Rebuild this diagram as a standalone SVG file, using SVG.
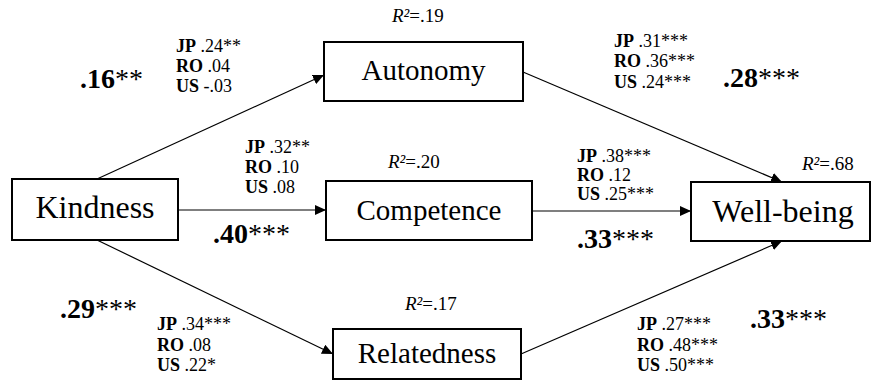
<svg xmlns="http://www.w3.org/2000/svg" width="873" height="382" viewBox="0 0 873 382" font-family="'Liberation Serif', 'DejaVu Serif', serif">
<style>
text{font-family:'Liberation Serif','DejaVu Serif',serif;fill:#000}
.box{fill:#fff;stroke:#000;stroke-width:2}
.node{font-size:29px;text-anchor:middle}
.big{font-size:32px;text-anchor:middle}
.edge{stroke:#000;stroke-width:1.2;fill:none;marker-end:url(#arr)}
.coef{font-size:28px}
.b{font-weight:bold}
.sm{font-size:18px}
.r2{font-size:19px}
.i{font-style:italic}
</style>
<defs>
<marker id="arr" markerUnits="userSpaceOnUse" markerWidth="12" markerHeight="10" refX="11" refY="5" orient="auto">
<path d="M0,0 L11,5 L0,10 Z" fill="#000"/>
</marker>
</defs>
<g id="connectors">
<line class="edge" x1="97" y1="179" x2="324" y2="75"/>
<line class="edge" x1="178" y1="210" x2="326" y2="210"/>
<line class="edge" x1="97" y1="240" x2="333" y2="354"/>
<line class="edge" x1="523" y1="72" x2="782" y2="182"/>
<line class="edge" x1="532" y1="211" x2="691" y2="211"/>
<line class="edge" x1="521" y1="354" x2="782" y2="241"/>
</g>
<g id="kindness">
<rect class="box" x="12" y="179" width="166" height="61"/>
<text class="big" x="95" y="218">Kindness</text>
</g>
<g id="autonomy">
<rect class="box" x="324" y="42" width="199" height="59"/>
<text class="node" x="423.500" y="80">Autonomy</text>
<text class="r2" x="392" y="22"><tspan class="i">R²</tspan>=.19</text>
</g>
<g id="competence">
<rect class="box" x="326" y="181" width="206" height="59"/>
<text class="node" x="429" y="220">Competence</text>
<text class="r2" x="388" y="168"><tspan class="i">R²</tspan>=.20</text>
</g>
<g id="relatedness">
<rect class="box" x="333" y="329" width="188" height="50"/>
<text class="node" x="427" y="363">Relatedness</text>
<text class="r2" x="405" y="310"><tspan class="i">R²</tspan>=.17</text>
</g>
<g id="wellbeing">
<rect class="box" x="691" y="182" width="179" height="59"/>
<text class="big" x="783" y="222">Well-being</text>
<text class="r2" x="802" y="170"><tspan class="i">R²</tspan>=.68</text>
</g>
<g id="labels">
<text class="coef" x="80" y="88"><tspan class="b">.16</tspan>**</text>
<text class="sm" x="176" y="52"><tspan class="b">JP</tspan> .24**</text>
<text class="sm" x="176" y="72"><tspan class="b">RO</tspan> .04</text>
<text class="sm" x="176" y="92"><tspan class="b">US</tspan> -.03</text>

<text class="sm" x="614" y="47"><tspan class="b">JP</tspan> .31***</text>
<text class="sm" x="614" y="67"><tspan class="b">RO</tspan> .36***</text>
<text class="sm" x="614" y="88"><tspan class="b">US</tspan> .24***</text>
<text class="coef" x="723" y="87"><tspan class="b">.28</tspan>***</text>

<text class="sm" x="245" y="153"><tspan class="b">JP</tspan> .32**</text>
<text class="sm" x="245" y="173"><tspan class="b">RO</tspan> .10</text>
<text class="sm" x="245" y="193"><tspan class="b">US</tspan> .08</text>
<text class="coef" x="213" y="243"><tspan class="b">.40</tspan>***</text>

<text class="sm" x="577" y="162"><tspan class="b">JP</tspan> .38***</text>
<text class="sm" x="577" y="181"><tspan class="b">RO</tspan> .12</text>
<text class="sm" x="577" y="200"><tspan class="b">US</tspan> .25***</text>
<text class="coef" x="577" y="248"><tspan class="b">.33</tspan>***</text>

<text class="coef" x="60" y="318"><tspan class="b">.29</tspan>***</text>
<text class="sm" x="157" y="330"><tspan class="b">JP</tspan> .34***</text>
<text class="sm" x="157" y="351"><tspan class="b">RO</tspan> .08</text>
<text class="sm" x="157" y="371"><tspan class="b">US</tspan> .22*</text>

<text class="sm" x="637" y="330"><tspan class="b">JP</tspan> .27***</text>
<text class="sm" x="637" y="351"><tspan class="b">RO</tspan> .48***</text>
<text class="sm" x="637" y="371"><tspan class="b">US</tspan> .50***</text>
<text class="coef" x="750" y="328"><tspan class="b">.33</tspan>***</text>
</g>
</svg>
